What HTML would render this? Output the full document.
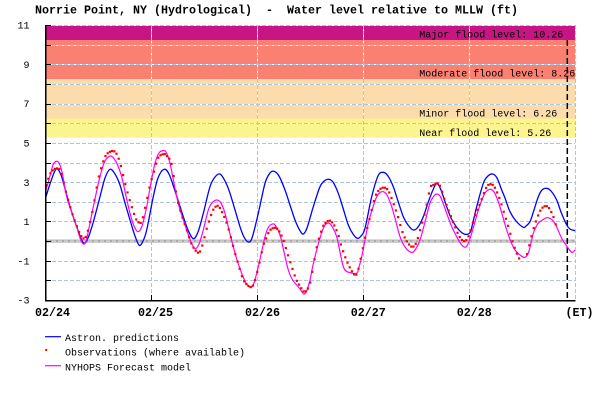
<!DOCTYPE html>
<html>
<head>
<meta charset="utf-8">
<style>
html,body{margin:0;padding:0;background:#fff;}
svg{display:block;}
text{font-family:"Liberation Mono","DejaVu Sans Mono",monospace;fill:#000;}
.b{font-weight:bold;}
</style>
</head>
<body>
<svg id="chart" width="600" height="400" viewBox="0 0 600 400" xmlns="http://www.w3.org/2000/svg">
  <rect x="0" y="0" width="600" height="400" fill="#fff"/>
  <!-- Title -->
  <text class="b" x="35" y="13.3" font-size="11.67" textLength="483" lengthAdjust="spacing" style="white-space:pre">Norrie Point, NY (Hydrological)  -  Water level relative to MLLW (ft)</text>

  <!-- flood bands -->
  <rect x="46" y="25" width="529.4" height="15" fill="#C71585"/>
  <rect x="46" y="40" width="529.4" height="39" fill="#FA8072"/>
  <rect x="46" y="79" width="529.4" height="39.5" fill="#FCDCAA"/>
  <rect x="46" y="118.5" width="529.4" height="19.2" fill="#FDF38F"/>

  <!-- grid -->
  <g id="grid" stroke-width="1" shape-rendering="crispEdges"></g>

  <!-- zero line -->
  <rect x="46" y="239.6" width="529.4" height="3" fill="#AAAAAA"/>
  <line x1="46" y1="241.1" x2="575.4" y2="241.1" stroke="#E8E8E8" stroke-width="1" stroke-dasharray="4 2"/>

  <!-- flood labels -->
  <g font-size="10">
    <text x="419.3" y="37.3" textLength="144" lengthAdjust="spacing">Major flood level: 10.26</text>
    <text x="419.3" y="76.7" textLength="156" lengthAdjust="spacing">Moderate flood level: 8.26</text>
    <text x="419.3" y="116.7" textLength="138" lengthAdjust="spacing">Minor flood level: 6.26</text>
    <text x="419.3" y="136" textLength="132" lengthAdjust="spacing">Near flood level: 5.26</text>
  </g>

  <!-- current time dashed line -->
  <line x1="567.3" y1="40" x2="567.3" y2="300" stroke="#000" stroke-width="1.5" stroke-dasharray="6 3"/>

  <!-- series -->
  <path id="blue" fill="none" stroke="#0000FF" stroke-width="1.3" d="M46,196.7 L50,184 L56,169.3 L61,175 L66.7,195 L71.7,212 L76.7,226.7 L83.3,242.7 L88,238 L93.3,222 L100,196.7 L105,178 L110,169.3 L115,174 L120,185 L125,203 L130,220 L135,236 L139.3,245.3 L143,241 L146.7,230 L153.3,196.7 L158,178 L164,169.3 L169,174 L174.7,190 L183.3,216.7 L188,230 L193.3,238.7 L198,232 L203.3,213.3 L210,186.7 L215,177 L220,174 L225,181 L230,193.3 L240,226.7 L244,237 L248.3,242 L252,238 L258.3,213.3 L265,183.3 L270,173 L274,171.3 L279,176 L285,190 L290,205 L295,220 L300,230.7 L303.3,234 L307,228 L313.3,206.7 L320,186.7 L325,180.5 L329,179.3 L333,182 L338.3,193.3 L343,208 L348.3,225 L353,234 L357.3,238.3 L361,236 L365,228.3 L371.7,196.7 L378,176 L383.3,172.3 L388,176 L393.3,186.7 L398,201 L403.3,216.7 L408,225 L413.3,230 L418,227 L423.3,216.7 L429,200 L434.7,186 L437.3,183.3 L441,190 L446.7,206.7 L451,218 L456.7,227.3 L461,232 L465,234.3 L470,232.7 L473,222 L476.7,206.7 L483.3,183.3 L488,176 L492.7,174 L497,178 L501.7,190 L505,198 L510,211.7 L516,221 L523.3,227.3 L526,226 L530,221.7 L534,210 L538.3,196.7 L542,190 L546.7,188.3 L551,191 L556.7,200 L561,212 L566.7,225 L570,229 L575,230.7"/>
  <path id="mag" fill="none" stroke="#FF00FF" stroke-width="1.2" d="M46,190 L50,176 L53,165 L56,161.3 L59,163 L62,172 L66.7,196.7 L71.7,212 L76.7,226.7 L80,238 L83.3,244 L86,241 L89,228 L93.3,206.7 L100,176.7 L105,161 L110.7,156 L115,160 L118,166 L121.7,176.7 L126,196 L130,213.3 L134,226 L138,231.7 L142,226 L146.7,206.7 L150,188 L155,163.3 L159,153 L162.7,150.7 L166,152 L170,163.3 L176.7,196.7 L181,213 L186.7,230 L191,242 L195,248.7 L199,244 L203.3,230 L208.3,210 L212,203 L216.7,200 L221,203 L225,213.3 L229,230 L233.3,246.7 L237,260 L241.7,273.3 L246,283 L250.7,287.3 L254,283 L258.3,266.7 L262,250 L265,236.7 L268,228 L271.7,224.3 L275,225 L280,235 L284,252 L288.3,270 L292,279 L296.7,285 L300,289 L304,294 L307,290 L310,280 L313,265 L316.7,250 L320,238 L323.3,228.3 L326,224 L329.3,223.3 L333,228 L336.7,236.7 L340,252 L343.3,266.7 L346,271 L350,272.7 L356.7,273.3 L359,267 L361.7,256.7 L365,240 L368.3,223.3 L372,210 L376.7,196.7 L380,192.5 L383.3,191.7 L387,195 L391.7,206.7 L396,222 L400,236.7 L405,247 L411,252.3 L415,250 L420,240 L425,222 L430,203 L434,196 L436.7,194 L440,196 L443,203 L446.7,213.3 L451,225 L456.7,236.7 L461,244 L465,247.3 L468,244 L471.7,233.3 L476,218 L480,205 L485,193 L490,189.3 L494,192 L498.3,201.7 L502,214 L506.7,230 L511,242 L515,250 L520,255 L525,257.3 L529,251 L533.3,233.3 L537,225 L540,221.7 L546.7,217.7 L551,219 L555,223.3 L558,230 L561.7,238.3 L566,245 L571.7,252.3 L575,250"/>
  <path id="red" fill="none" stroke="#FF0000" stroke-width="2" stroke-dasharray="2 0.4" d="M46,185 L50,174 L53,170 L56.7,168.3 L60,170 L63,180 L66.7,195 L71.7,212 L76.7,226 L80,234 L83.3,238.3 L86,236 L89,226 L93,208 L98,180 L102,165 L106,155 L111.7,151 L116,153 L120,163 L125,183.3 L129,198 L133.3,211.7 L136,219 L139.3,222.7 L142,220 L146.7,200 L150,185 L153.3,173.3 L158,158 L163.3,154 L167,156 L171.7,165 L176.7,196.7 L181,213 L186.7,230 L192,245 L198.3,252.7 L202,246 L206.7,228.3 L211.7,213 L215,207 L218.3,206 L222,212 L226.7,223.3 L231,238 L235,253.3 L240,270 L243.3,280 L248,285.5 L251.7,286.7 L255,280 L260,260 L263,246 L266.7,236.7 L270,230 L275,227.7 L279,231 L283.3,240 L287,252 L291.7,266.7 L296,279 L300,286 L304,291.7 L308,288 L311,278 L316.7,246.7 L320,235 L323,226 L327,221.5 L330,220.7 L334,225 L338.3,235 L341,245 L345,256.7 L350,268 L355,275 L358,270 L361.7,253.3 L366,233 L370,216.7 L375,197 L380,189 L385,187.7 L389,192 L393.3,203.3 L398,217 L401.7,230 L406,240 L411.7,246.7 L416,243 L420,230 L425,212 L430,188.3 L433,185 L436.7,183.3 L440,186 L445,201 L450,214 L455,226.7 L459,236 L463.3,241 L467,239 L471,229 L475,215 L480,203.3 L485,190 L488,185 L491.7,184.3 L495,188 L500,200 L504,213 L508.3,226.7 L512,240 L516.7,253.3 L520.7,261.7 M527,254 L530,242 L533,230 L537,218 L540,211 L543,207 L546,206 L549,208 L553.3,216.7 L556.7,228.3"/>
  <g id="reddots" fill="#FF0000"></g>

  <!-- axes -->
  <g id="axes" stroke="#000" shape-rendering="crispEdges"></g>

  <!-- y labels -->
  <g font-size="10" text-anchor="end">
    <text x="29.5" y="28.6">11</text>
    <text x="29.5" y="67.9">9</text>
    <text x="29.5" y="107.2">7</text>
    <text x="29.5" y="146.5">5</text>
    <text x="29.5" y="185.8">3</text>
    <text x="29.5" y="225">1</text>
    <text x="29.5" y="264.3">-1</text>
    <text x="29.5" y="303.5">-3</text>
  </g>

  <!-- x labels -->
  <g class="b" font-size="11.67">
    <text class="b" x="35" y="316" textLength="35" lengthAdjust="spacing">02/24</text>
    <text class="b" x="138" y="316" textLength="35" lengthAdjust="spacing">02/25</text>
    <text class="b" x="245" y="316" textLength="35" lengthAdjust="spacing">02/26</text>
    <text class="b" x="350.7" y="316" textLength="35" lengthAdjust="spacing">02/27</text>
    <text class="b" x="456.7" y="316" textLength="35" lengthAdjust="spacing">02/28</text>
    <text class="b" x="565.5" y="316" textLength="28" lengthAdjust="spacing">(ET)</text>
  </g>

  <!-- legend -->
  <line x1="45" y1="336.7" x2="61" y2="336.7" stroke="#0000FF" stroke-width="1.2"/>
  <rect x="45.2" y="349" width="2" height="2" fill="#FF0000"/>
  <line x1="45" y1="365.7" x2="61" y2="365.7" stroke="#FF00FF" stroke-width="1.2"/>
  <g font-size="10">
    <text x="65" y="341" textLength="114" lengthAdjust="spacing">Astron. predictions</text>
    <text x="65" y="355.5" textLength="180" lengthAdjust="spacing">Observations (where available)</text>
    <text x="65" y="370.5" textLength="126" lengthAdjust="spacing">NYHOPS Forecast model</text>
  </g>
</svg>
<script>
(function(){
  var NS="http://www.w3.org/2000/svg";
  function el(tag,attrs,parent){var e=document.createElementNS(NS,tag);for(var k in attrs)e.setAttribute(k,attrs[k]);parent.appendChild(e);return e;}
  // grid
  var g=document.getElementById('grid');
  var X0=46,X1=575.4,Y0=25,Y1=300;
  for(var v=11;v>=-3;v--){
    var y=25+(11-v)*(275/14);
    y=Math.round(y)+0.5;
    el('line',{x1:X0,y1:y,x2:X1,y2:y,stroke:'#FFFFFF'},g);
    el('line',{x1:X0,y1:y,x2:X1,y2:y,stroke:'#B0C4DE','stroke-dasharray':'4 2'},g);
  }
  var days=[151.4,257.4,363.4,469.4,575.4];
  days.forEach(function(x){
    var xx=Math.round(x)+0.5;
    el('line',{x1:xx,y1:Y0,x2:xx,y2:Y1,stroke:'#FFFFFF'},g);
    el('line',{x1:xx,y1:Y0,x2:xx,y2:Y1,stroke:'#B0C4DE','stroke-dasharray':'4 2'},g);
  });
  // axes
  var a=document.getElementById('axes');
  el('line',{x1:45.5,y1:25,x2:45.5,y2:300.5,'stroke-width':1.5},a);
  el('line',{x1:45,y1:300.5,x2:575.5,y2:300.5,'stroke-width':1.5},a);
  for(var v2=11;v2>=-3;v2--){
    var yy=Math.round(25+(11-v2)*(275/14))+0.5;
    el('line',{x1:45,y1:yy,x2:51,y2:yy,'stroke-width':1},a);
  }
  [151.4,257.4,363.4,469.4].forEach(function(x){
    var xx=Math.round(x)+0.5;
    el('line',{x1:xx,y1:295,x2:xx,y2:300,'stroke-width':1.2},a);
  });

  function parse(d){
    var subs=d.split('M').filter(function(s){return s.trim().length;});
    return subs.map(function(s){
      var n=s.match(/-?\d+(\.\d+)?/g).map(Number);var p=[];
      for(var i=0;i<n.length;i+=2)p.push([n[i],n[i+1]]);return p;});
  }
  function segs(p){
    var out=[];
    for(var i=0;i<p.length-1;i++){
      var p0=p[i-1]||p[i],p1=p[i],p2=p[i+1],p3=p[i+2]||p2;
      var c1=[p1[0]+(p2[0]-p0[0])/6,p1[1]+(p2[1]-p0[1])/6];
      var c2=[p2[0]-(p3[0]-p1[0])/6,p2[1]-(p3[1]-p1[1])/6];
      out.push([p1,c1,c2,p2]);
    }
    return out;
  }
  function smoothD(subs){
    var d='';
    subs.forEach(function(p){
      d+='M'+p[0][0]+','+p[0][1];
      segs(p).forEach(function(s){
        d+=' C'+s[1][0].toFixed(2)+','+s[1][1].toFixed(2)+' '+s[2][0].toFixed(2)+','+s[2][1].toFixed(2)+' '+s[3][0]+','+s[3][1];
      });
    });
    return d;
  }
  function dense(p){
    var pts=[];
    segs(p).forEach(function(s){
      for(var t=0;t<1;t+=0.05){
        var mt=1-t;
        var x=mt*mt*mt*s[0][0]+3*mt*mt*t*s[1][0]+3*mt*t*t*s[2][0]+t*t*t*s[3][0];
        var y=mt*mt*mt*s[0][1]+3*mt*mt*t*s[1][1]+3*mt*t*t*s[2][1]+t*t*t*s[3][1];
        pts.push([x,y]);
      }
    });
    pts.push(p[p.length-1]);
    return pts;
  }
  ['blue','mag'].forEach(function(id){
    var e=document.getElementById(id);
    e.setAttribute('d',smoothD(parse(e.getAttribute('d'))));
  });
  var r=document.getElementById('red');
  var subs=parse(r.getAttribute('d'));
  var dots=document.getElementById('reddots');
  subs.forEach(function(p){
    var dp=dense(p);
    var x=p[0][0],xe=p[p.length-1][0],j=0;
    while(x<=xe+0.01){
      while(j<dp.length-2&&dp[j+1][0]<x)j++;
      var a1=dp[j],b1=dp[j+1];
      var y=a1[1];
      if(b1&&b1[0]!==a1[0])y=a1[1]+(b1[1]-a1[1])*(x-a1[0])/(b1[0]-a1[0]);
      el('rect',{x:(x-1).toFixed(2),y:(y-1).toFixed(2),width:2.2,height:2.2},dots);
      x+=2.2;
    }
  });
  r.setAttribute('display','none');
})();
</script>
</body>
</html>
